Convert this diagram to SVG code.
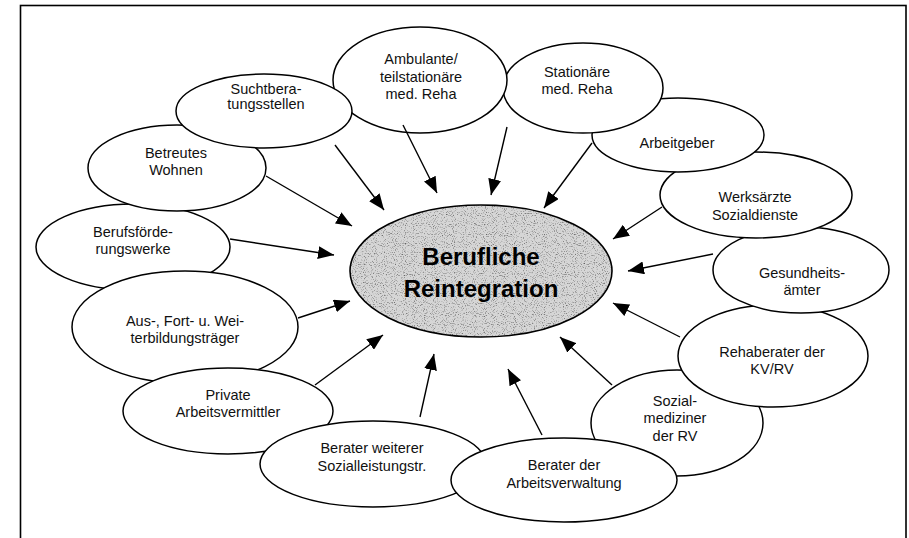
<svg xmlns="http://www.w3.org/2000/svg" width="909" height="538" viewBox="0 0 909 538">
<defs>
<style>
.n ellipse{fill:#fff;stroke:#000;stroke-width:1.5}
.n text{font-family:"Liberation Sans",Arial,sans-serif;font-size:14.5px;fill:#111;text-anchor:middle}
.c line{stroke:#000;stroke-width:1.4;marker-end:url(#ah)}
.big{font-family:"Liberation Sans",Arial,sans-serif;font-size:24px;font-weight:bold;fill:#000;text-anchor:middle}
</style>
<marker id="ah" markerUnits="userSpaceOnUse" markerWidth="17" markerHeight="13" refX="16" refY="6.5" orient="auto">
<path d="M0,0 L16,6.5 L0,13 z" fill="#000"/>
</marker>
<filter id="stipple" x="0" y="0" width="100%" height="100%" color-interpolation-filters="sRGB">
<feTurbulence type="fractalNoise" baseFrequency="0.9" numOctaves="1" seed="7" result="noise"/>
<feColorMatrix in="noise" type="matrix" values="0 0 0 0 0.25  0 0 0 0 0.25  0 0 0 0 0.25  -2.6 0 0 0 1.22" result="dots"/>
<feComposite in="dots" in2="SourceAlpha" operator="in"/>
</filter>
</defs>
<rect x="20.5" y="5.5" width="885.5" height="545" fill="#fff" stroke="#000" stroke-width="1.6"/>

<g class="n">
<g id="beruf"><ellipse cx="133" cy="247" rx="97" ry="43"/><text x="133" y="237">Berufsförde-</text><text x="133" y="254">rungswerke</text></g>
<g id="aus"><ellipse cx="185" cy="327" rx="113" ry="56"/><text x="185" y="326">Aus-, Fort- u. Wei-</text><text x="185" y="343">terbildungsträger</text></g>
<g id="private"><ellipse cx="228" cy="411" rx="105" ry="43"/><text x="228" y="400">Private</text><text x="228" y="417">Arbeitsvermittler</text></g>
<g id="berater-weiterer"><ellipse cx="373" cy="464" rx="113" ry="43"/><text x="372" y="453">Berater weiterer</text><text x="372" y="471">Sozialleistungstr.</text></g>
<g id="sozialmediziner"><ellipse cx="677" cy="423" rx="86" ry="53"/><text x="675" y="406">Sozial-</text><text x="675" y="423">mediziner</text><text x="675" y="441">der RV</text></g>
<g id="berater-av"><ellipse cx="564" cy="480" rx="113" ry="42"/><text x="564" y="470">Berater der</text><text x="564" y="488">Arbeitsverwaltung</text></g>
<g id="rehaberater"><ellipse cx="773" cy="356" rx="95" ry="51"/><text x="772" y="357">Rehaberater der</text><text x="772" y="374">KV/RV</text></g>
<g id="gesundheitsaemter"><ellipse cx="801" cy="270" rx="88" ry="43"/><text x="802" y="278">Gesundheits-</text><text x="802" y="295">ämter</text></g>
<g id="werksaerzte"><ellipse cx="756" cy="195" rx="96" ry="43"/><text x="755" y="202">Werksärzte</text><text x="755" y="220">Sozialdienste</text></g>
<g id="arbeitgeber"><ellipse cx="678" cy="135" rx="86" ry="37"/><text x="677" y="148">Arbeitgeber</text></g>
<g id="stationaere"><ellipse cx="583" cy="88" rx="80" ry="45"/><text x="577" y="77">Stationäre</text><text x="577" y="94">med. Reha</text></g>
<g id="ambulante"><ellipse cx="420" cy="80" rx="87" ry="53"/><text x="421" y="64">Ambulante/</text><text x="421" y="82">teilstationäre</text><text x="421" y="99">med. Reha</text></g>
<g id="betreutes"><ellipse cx="177" cy="168" rx="89" ry="43"/><text x="176" y="158">Betreutes</text><text x="176" y="175">Wohnen</text></g>
<g id="sucht"><ellipse cx="264" cy="111" rx="88" ry="37"/><text x="266" y="94">Suchtbera-</text><text x="266" y="109">tungsstellen</text></g>
</g>

<g id="center">
<ellipse cx="481" cy="271" rx="131" ry="66" fill="#d6d6d6"/>
<ellipse cx="481" cy="271" rx="131" ry="66" fill="#000" filter="url(#stipple)"/>
<ellipse cx="481" cy="271" rx="131" ry="66" fill="none" stroke="#000" stroke-width="1.6"/>
<text class="big" x="481" y="265">Berufliche</text>
<text class="big" x="481" y="297">Reintegration</text>
</g>

<g class="c" id="connectors">
<line x1="335" y1="145" x2="384" y2="210"/>
<line x1="403" y1="125" x2="437" y2="193"/>
<line x1="507" y1="127" x2="491" y2="195"/>
<line x1="592" y1="143" x2="544" y2="208"/>
<line x1="662" y1="207" x2="613" y2="239"/>
<line x1="713" y1="254" x2="628" y2="271"/>
<line x1="680" y1="337" x2="613" y2="303"/>
<line x1="612" y1="385" x2="560" y2="337"/>
<line x1="542" y1="435" x2="508" y2="369"/>
<line x1="420" y1="417" x2="434" y2="354"/>
<line x1="315" y1="385" x2="383" y2="335"/>
<line x1="298" y1="318" x2="350" y2="301"/>
<line x1="230" y1="239" x2="334" y2="255"/>
<line x1="266" y1="176" x2="352" y2="226"/>
</g>
</svg>
